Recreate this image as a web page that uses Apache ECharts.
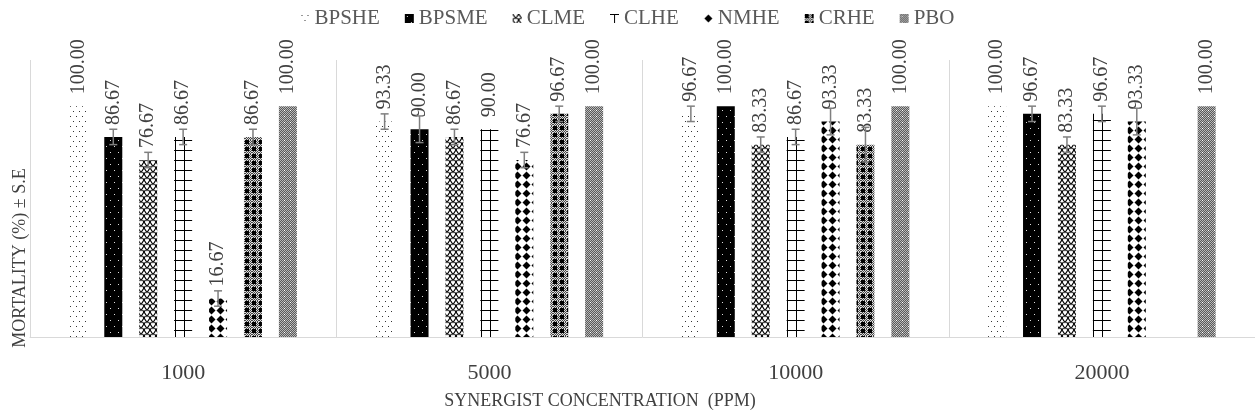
<!DOCTYPE html>
<html>
<head>
<meta charset="utf-8">
<script src="https://cdn.jsdelivr.net/npm/echarts@6/dist/echarts.min.js"></script>
<style>
  html, body { margin: 0; padding: 0; background: #fff; }
  #chart { width: 1255px; height: 419px; }
</style>
</head>
<body>
<div id="chart"></div>
<script>
const categories = ['1000', '5000', '10000', '20000']
const names = ['BPSHE', 'BPSME', 'CLME', 'CLHE', 'NMHE', 'CRHE', 'PBO']

const BPSHE = [100, 93.33, 96.67, 100]
const BPSME = [86.67, 90.00, 100, 96.67]
const CLME = [76.67, 86.67, 83.33, 83.33]
const CLHE = [86.67, 90.00, 86.67, 96.67]
const NMHE = [16.67, 76.67, 93.33, 93.33]
const CRHE = [86.67, 96.67, 83.33, null]
const PBO = [100, 100, 100, 100]

// standard errors
const errBPSHE = [0, 3.33, 3.33, 0]
const errBPSME = [3.33, 5.77, 0, 3.33]
const errCLME = [3.33, 3.33, 3.33, 3.33]
const errCLHE = [3.33, 0, 3.33, 3.33]
const errNMHE = [3.33, 3.33, 5.77, 5.77]
const errCRHE = [3.33, 3.33, 7.5, null]
const errPBO = [0, 0, 0, 0]

const values = [BPSHE, BPSME, CLME, CLHE, NMHE, CRHE, PBO]
const errors = [errBPSHE, errBPSME, errCLME, errCLHE, errNMHE, errCRHE, errPBO]

// excel-like pattern fills
function pat(w, h, draw) {
  const c = document.createElement('canvas')
  c.width = w; c.height = h
  const g = c.getContext('2d')
  draw(g, w, h)
  return { image: c, repeat: 'repeat' }
}
function checker(g, w, h, a, b) {
  for (let x = 0; x < w; x++) for (let y = 0; y < h; y++) {
    g.fillStyle = (x + y) % 2 ? a : b; g.fillRect(x, y, 1, 1)
  }
}
const patterns = [
  pat(6, 10, (g) => {            // sparse dots
    g.fillStyle = '#fff'; g.fillRect(0, 0, 6, 10)
    g.fillStyle = '#333'; g.fillRect(1, 1, 1, 1); g.fillRect(4, 6, 1, 1)
  }),
  pat(8, 12, (g) => {            // black with white dots
    g.fillStyle = '#000'; g.fillRect(0, 0, 8, 12)
    g.fillStyle = '#ddd'; g.fillRect(2, 2, 1, 1); g.fillRect(6, 8, 1, 1)
  }),
  pat(6, 6, (g) => {             // zigzag
    g.fillStyle = '#fff'; g.fillRect(0, 0, 6, 6)
    g.strokeStyle = '#000'; g.lineWidth = 1.2
    g.beginPath(); g.moveTo(0, 0); g.lineTo(3, 4.5); g.lineTo(6, 0); g.stroke()
    g.beginPath(); g.moveTo(0, 6); g.lineTo(1.5, 4); g.moveTo(6, 6); g.lineTo(4.5, 4); g.stroke()
  }),
  pat(9, 10, (g) => {            // large grid
    g.fillStyle = '#fff'; g.fillRect(0, 0, 9, 10)
    g.fillStyle = '#000'; g.fillRect(0, 0, 9, 1); g.fillRect(4, 0, 1, 10)
  }),
  pat(9, 9, (g) => {             // diamonds
    g.fillStyle = '#fff'; g.fillRect(0, 0, 9, 9)
    g.fillStyle = '#000'
    g.beginPath(); g.moveTo(4.5, 0.5); g.lineTo(8.5, 4.5); g.lineTo(4.5, 8.5); g.lineTo(0.5, 4.5); g.closePath(); g.fill()
  }),
  pat(7, 7, (g) => {             // black squares on gray checker
    checker(g, 7, 7, '#444', '#ddd')
    g.fillStyle = '#000'; g.fillRect(0, 0, 4, 4)
  }),
  pat(6, 6, (g) => {             // fine gray checker
    checker(g, 6, 6, '#5a5a5a', '#b8b8b8')
    g.fillStyle = '#fff'; g.fillRect(2, 2, 1, 1)
  })
]

const barWidth = 18
const gapRatio = 0.94
const font = 'Liberation Serif, Times New Roman, serif'

const chartinstance = echarts.init(document.getElementById('chart'))

const barSeries = names.map((n, i) => ({
  name: n,
  type: 'bar',
  data: values[i],
  barWidth: barWidth,
  barGap: (gapRatio * 100) + '%',
  itemStyle: { color: patterns[i] },
  label: {
    show: true,
    position: 'top',
    distance: 12,
    rotate: 90,
    align: 'left',
    verticalAlign: 'middle',
    fontFamily: font,
    fontSize: 20,
    color: '#404040',
    formatter: (p) => p.value == null ? '' : Number(p.value).toFixed(2)
  },
  z: 2
}))

const errSeries = names.map((n, i) => ({
  name: n + ' SE',
  type: 'custom',
  z: 5,
  silent: true,
  data: values[i].map((v, k) => [k, v, errors[i][k]]),
  encode: { x: 0, y: 1 },
  renderItem: function (params, api) {
    const v = api.value(1), e = api.value(2)
    if (v == null || isNaN(v) || !e) return
    const off = (i - 3) * barWidth * (1 + gapRatio)
    const hi = api.coord([api.value(0), v + e])
    const lo = api.coord([api.value(0), v - e])
    const x = hi[0] + off
    const cap = 4
    const st = { stroke: '#7f7f7f', lineWidth: 1.5 }
    return {
      type: 'group',
      children: [
        { type: 'line', shape: { x1: x, y1: hi[1], x2: x, y2: lo[1] }, style: st },
        { type: 'line', shape: { x1: x - cap, y1: hi[1], x2: x + cap, y2: hi[1] }, style: st },
        { type: 'line', shape: { x1: x - cap, y1: lo[1], x2: x + cap, y2: lo[1] }, style: st }
      ]
    }
  }
}))

const option = {
  backgroundColor: '#fff',
  animation: false,
  legend: {
    data: names,
    top: 3,
    left: 'center',
    icon: 'rect',
    itemWidth: 9,
    itemHeight: 9,
    itemGap: 25,
    textStyle: { fontFamily: font, fontSize: 21, color: '#595959' }
  },
  grid: { left: 30, right: 0, top: 60, bottom: 82 },
  xAxis: {
    type: 'category',
    data: categories,
    axisLine: { lineStyle: { color: '#d9d9d9', width: 1 } },
    axisTick: { show: false },
    splitLine: { show: true, lineStyle: { color: '#d9d9d9', width: 1 } },
    axisLabel: { margin: 25, fontFamily: font, fontSize: 22, color: '#404040' }
  },
  yAxis: {
    type: 'value',
    min: 0,
    max: 120,
    axisLabel: { show: false },
    axisLine: { show: false },
    axisTick: { show: false },
    splitLine: { show: false }
  },
  graphic: [{
    type: 'text',
    x: 20,
    y: 258,
    rotation: Math.PI / 2,
    style: {
      text: 'MORTALITY (%) ± S.E',
      fontFamily: font,
      fontSize: 18,
      fill: '#404040',
      textAlign: 'center',
      textVerticalAlign: 'middle'
    }
  }, {
    type: 'text',
    x: 600,
    y: 401,
    style: {
      text: 'SYNERGIST CONCENTRATION  (PPM)',
      fontFamily: font,
      fontSize: 18,
      fill: '#404040',
      textAlign: 'center',
      textVerticalAlign: 'middle'
    }
  }],
  series: barSeries.concat(errSeries)
}
option && chartinstance.setOption(option)
window.addEventListener('resize', () => {
  chartinstance.resize()
})
</script>
</body>
</html>
